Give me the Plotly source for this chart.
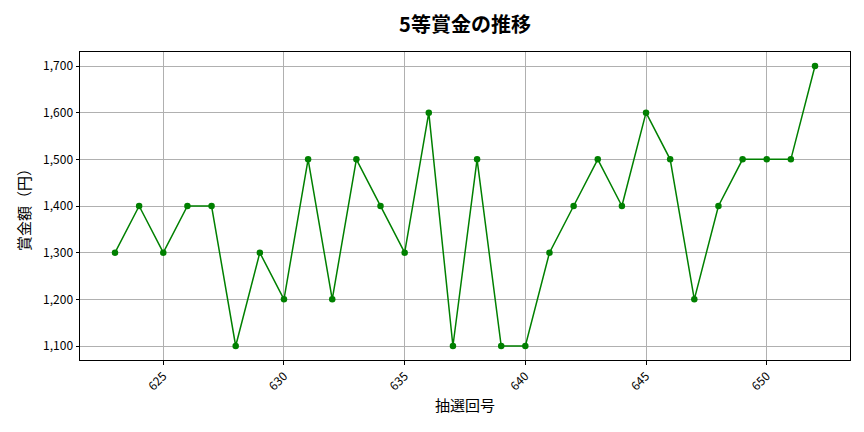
import plotly.graph_objects as go

draws = list(range(623, 653))
prizes = [1300, 1400, 1300, 1400, 1400, 1100, 1300, 1200, 1500, 1200,
          1500, 1400, 1300, 1600, 1100, 1500, 1100, 1100, 1300, 1400,
          1500, 1400, 1600, 1500, 1200, 1400, 1500, 1500, 1500, 1700]
x_ticks = [625, 630, 635, 640, 645, 650]
y_ticks = [1100, 1200, 1300, 1400, 1500, 1600, 1700]

FONT = "Noto Sans CJK JP"

fig = go.Figure(go.Scatter(
    x=draws, y=prizes, mode="lines+markers",
    line=dict(color="green", width=1.5),
    marker=dict(color="green", size=6.5),
))

fig.update_layout(
    width=864, height=432,
    margin=dict(l=72, r=22, t=44, b=80, autoexpand=False),
    paper_bgcolor="white", plot_bgcolor="white",
    font=dict(family=FONT, color="black", size=12),
    showlegend=False,
    title=dict(text="<b>5等賞金の推移</b>", xref="paper", x=0.5, xanchor="center",
               y=1 - 17 / 432, yanchor="middle", font=dict(size=20, family=FONT)),
)
fig.update_xaxes(
    range=[621.55, 653.45], tickvals=x_ticks, ticktext=[str(v) for v in x_ticks],
    tickangle=-45, showgrid=True, gridcolor="#b0b0b0", gridwidth=0.8,
    showline=True, linecolor="black", linewidth=1, mirror=True,
    ticks="outside", ticklen=3.5, tickcolor="black", zeroline=False,
    title=dict(text="抽選回号", font=dict(size=15, family=FONT), standoff=8),
)
fig.update_yaxes(
    range=[1070, 1730], tickvals=y_ticks, ticktext=[f"{v:,}" for v in y_ticks],
    showgrid=True, gridcolor="#b0b0b0", gridwidth=0.8,
    showline=True, linecolor="black", linewidth=1, mirror=True,
    ticks="outside", ticklen=3.5, tickcolor="black", zeroline=False,
    title=dict(text="賞金額（円）", font=dict(size=15, family=FONT), standoff=8),
)

fig.write_html("out.html")
